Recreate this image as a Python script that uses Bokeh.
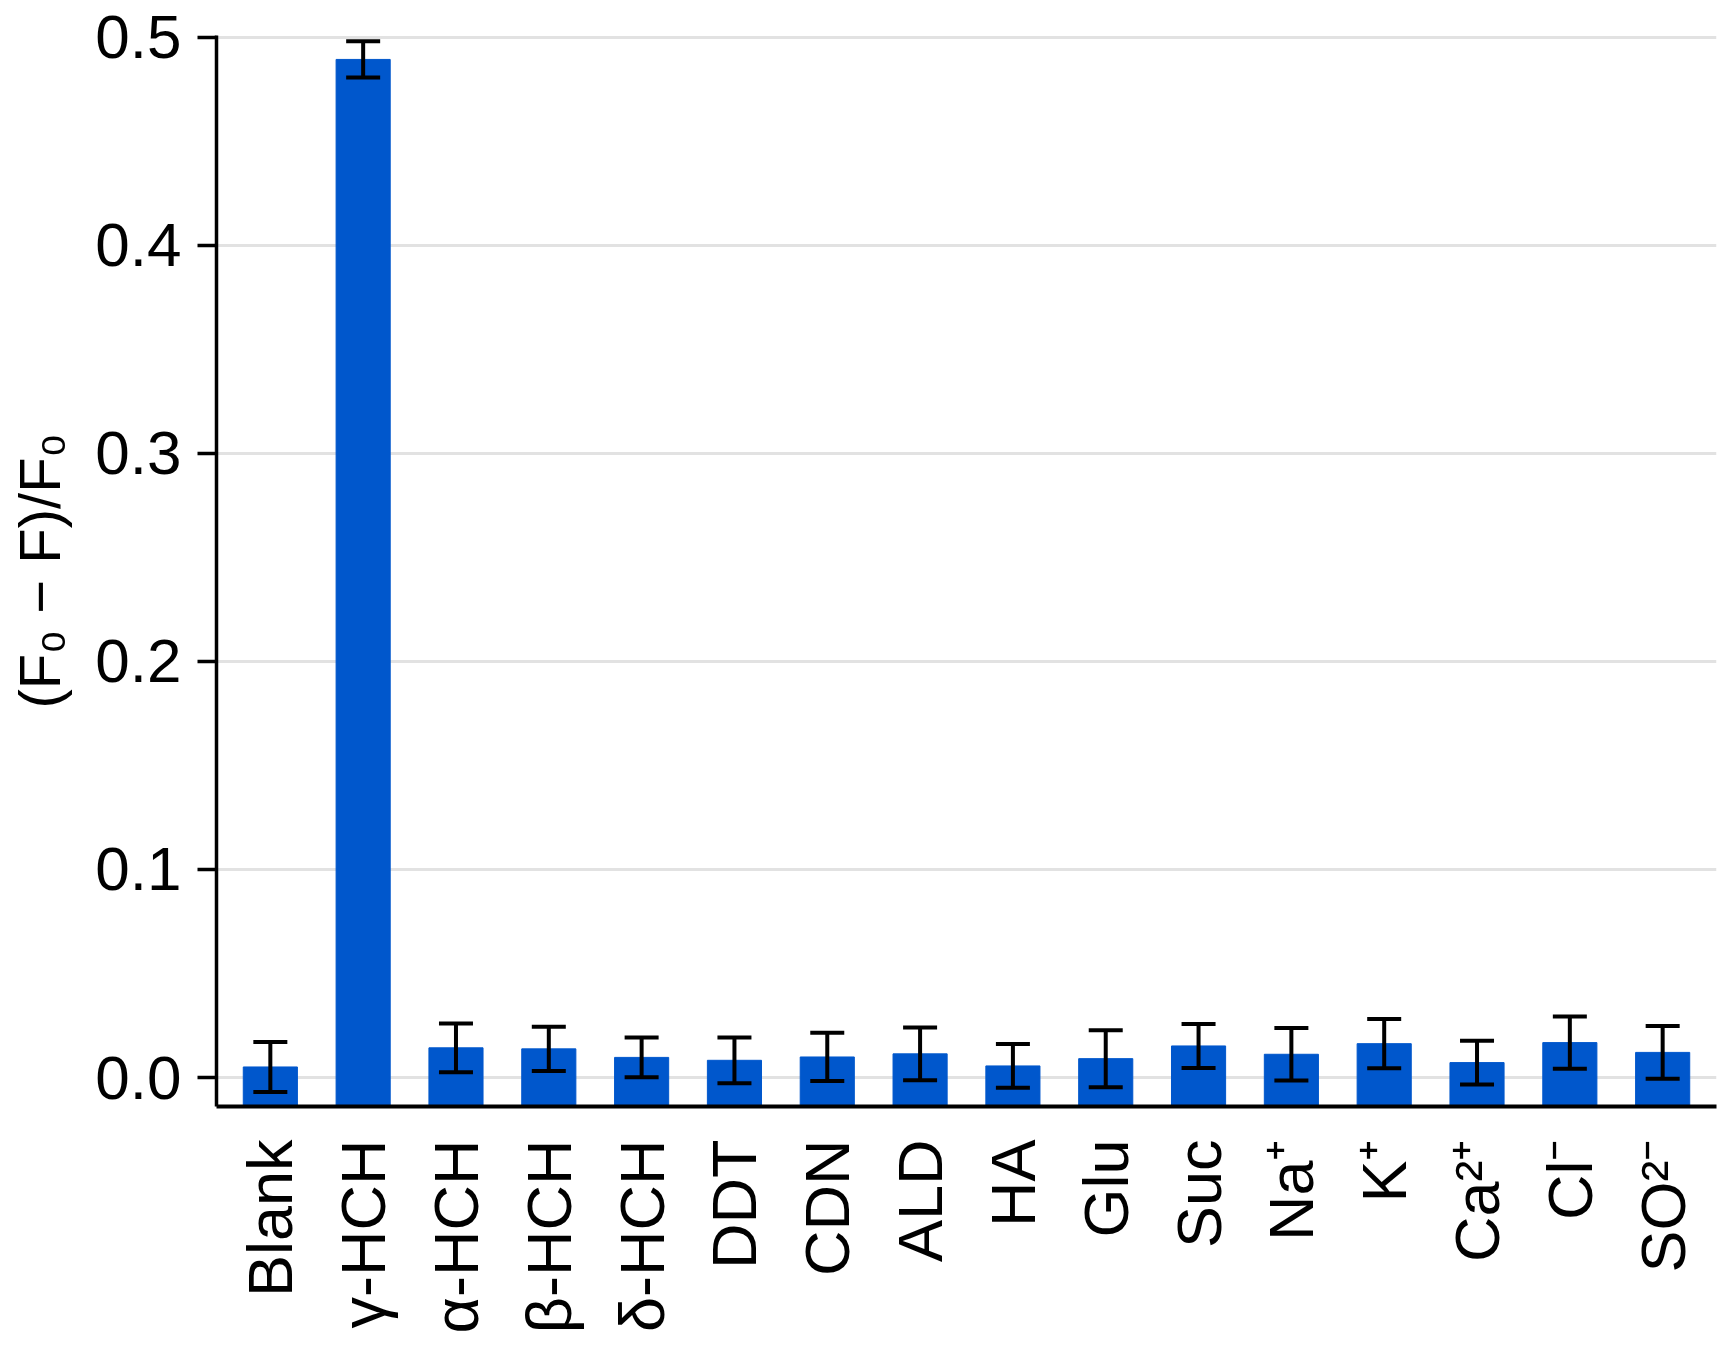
import math
from bokeh.plotting import figure
from bokeh.models import ColumnDataSource, FixedTicker, NumeralTickFormatter, Range1d, FactorRange, Whisker, TeeHead
from bokeh.embed import file_html
from bokeh.resources import INLINE

categories = ["Blank", "γ-HCH", "α-HCH", "β-HCH", "δ-HCH", "DDT", "CDN", "ALD",
              "HA", "Glu", "Suc", "Na⁺", "K⁺", "Ca²⁺", "Cl⁻", "SO²⁻"]
values = [0.0051, 0.4893, 0.0143, 0.0138, 0.0097, 0.0083, 0.0099, 0.0114,
          0.0056, 0.0091, 0.0152, 0.0112, 0.0163, 0.0072, 0.0168, 0.0121]
errors = [0.0120, 0.0087, 0.0117, 0.0106, 0.0096, 0.0110, 0.0116, 0.0127,
          0.0105, 0.0137, 0.0106, 0.0126, 0.0118, 0.0105, 0.0126, 0.0127]
y_ticks = [0.0, 0.1, 0.2, 0.3, 0.4, 0.5]

FONT = "Liberation Sans"
BAR_COLOR = "#0057CC"
Y0 = -0.0139

p = figure(width=1724, height=1336, output_backend="svg", toolbar_location=None,
           x_range=FactorRange(*categories, range_padding=0.01, range_padding_units="percent"),
           y_range=Range1d(Y0, 0.5008),
           min_border_left=216, min_border_right=8, min_border_top=35, min_border_bottom=230)

src = ColumnDataSource(dict(
    x=categories, top=values,
    upper=[v + e for v, e in zip(values, errors)],
    lower=[v - e for v, e in zip(values, errors)],
))

p.vbar(x="x", top="top", bottom=Y0, width=0.583, source=src,
       fill_color=BAR_COLOR, line_color=BAR_COLOR, line_width=1)

wh = Whisker(source=src, base="x", upper="upper", lower="lower",
             line_width=4, line_color="black", level="overlay",
             upper_head=TeeHead(size=34, line_width=4, line_color="black"),
             lower_head=TeeHead(size=34, line_width=4, line_color="black"))
p.add_layout(wh)

p.outline_line_color = None
p.background_fill_color = "white"
p.border_fill_color = "white"

p.xgrid.grid_line_color = None
p.ygrid.grid_line_color = "#e2e2e2"
p.ygrid.grid_line_width = 3
p.yaxis.ticker = FixedTicker(ticks=y_ticks)
p.yaxis.formatter = NumeralTickFormatter(format="0.0")
p.yaxis.minor_tick_line_color = None
p.yaxis.major_tick_out = 19
p.yaxis.major_tick_in = 0
p.yaxis.major_tick_line_width = 3.5
p.yaxis.axis_line_width = 3.5
p.yaxis.major_label_standoff = 16
p.yaxis.major_label_text_font = FONT
p.yaxis.major_label_text_font_size = "62px"
p.yaxis.major_label_text_color = "black"
p.yaxis.axis_label = "(F₀ − F)/F₀"
p.yaxis.axis_label_text_font = FONT
p.yaxis.axis_label_text_font_size = "58px"
p.yaxis.axis_label_text_font_style = "normal"
p.yaxis.axis_label_text_color = "black"
p.yaxis.axis_label_standoff = 20

p.xaxis.major_tick_line_color = None
p.xaxis.minor_tick_line_color = None
p.xaxis.major_tick_out = 0
p.xaxis.axis_line_width = 4
p.xaxis.major_label_orientation = math.pi / 2
p.xaxis.major_label_standoff = 33
p.xaxis.major_label_text_font = FONT
p.xaxis.major_label_text_font_size = "63px"
p.xaxis.major_label_text_color = "black"

open("out.html", "w").write(file_html(p, INLINE))
